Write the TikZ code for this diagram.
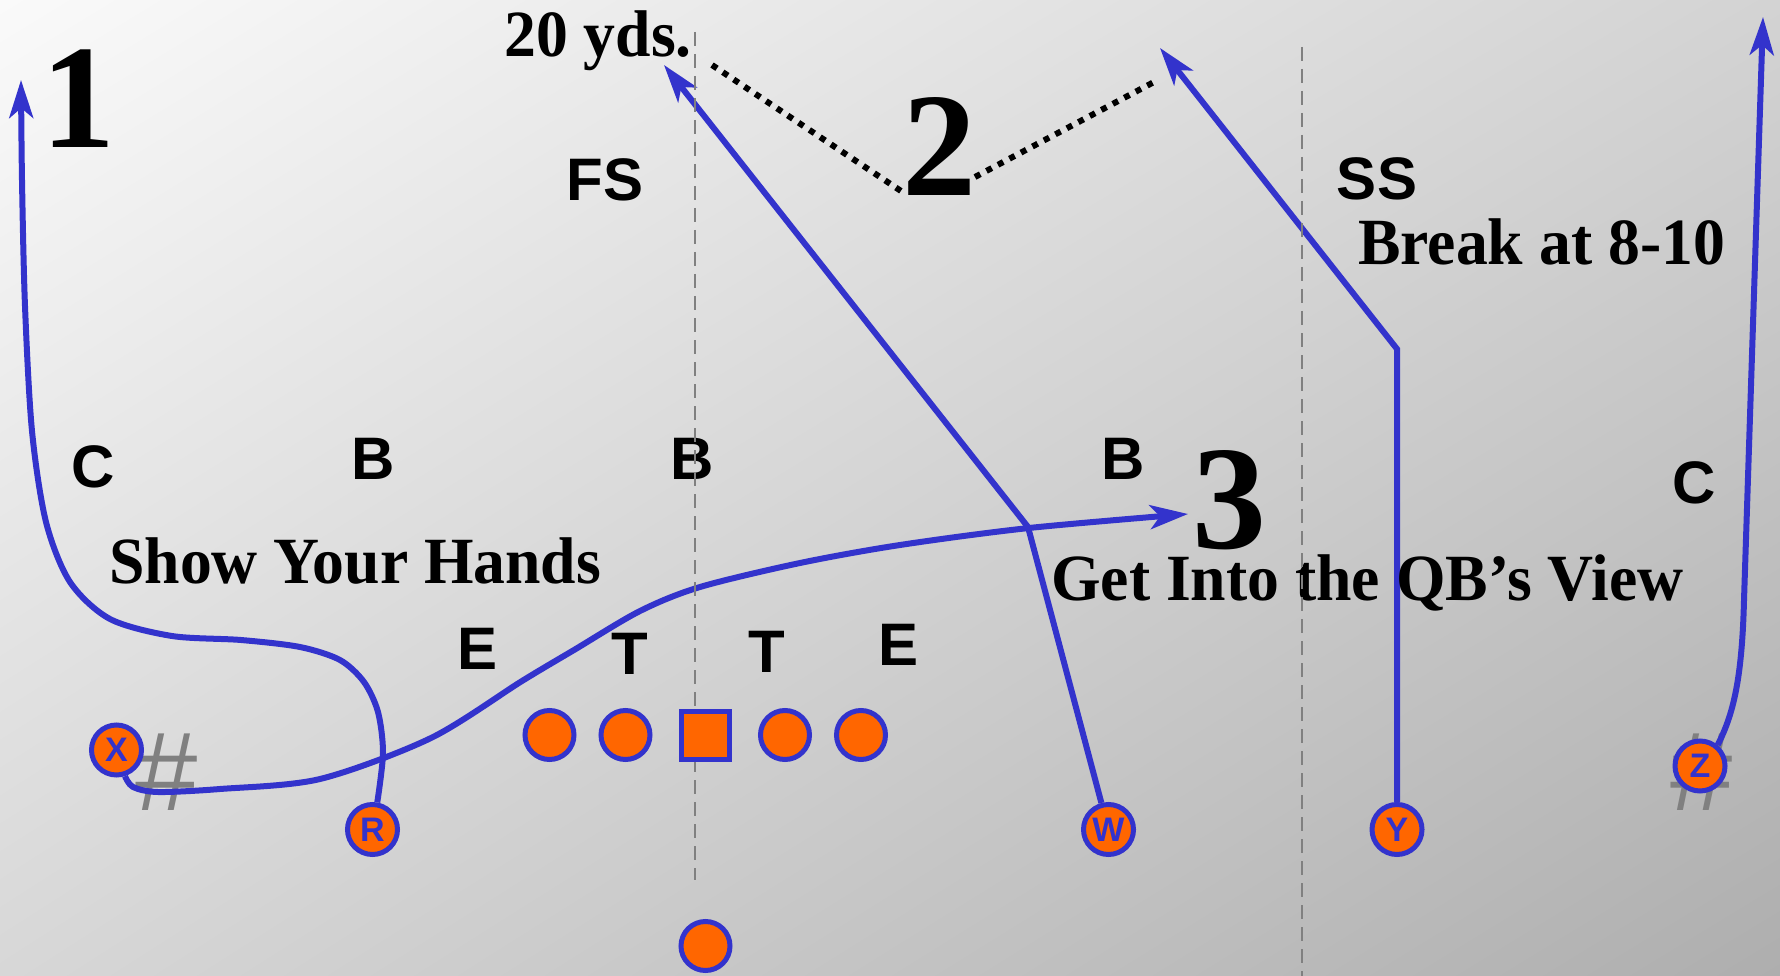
\documentclass[tikz,border=0pt]{standalone}
\usepackage{fontspec}
\usetikzlibrary{arrows.meta,shadings}
\newfontfamily\lserif[FakeStretch=0.965]{Liberation Serif}
\newfontfamily\nserif{Liberation Serif}
\newfontfamily\lsans{Liberation Sans}
\definecolor{pblue}{HTML}{3333CC}
\definecolor{porange}{HTML}{FF6600}
\definecolor{lgray}{HTML}{808080}
\definecolor{bgTL}{HTML}{FAFAFA}
\definecolor{bgTR}{HTML}{D3D3D3}
\definecolor{bgBL}{HTML}{D7D7D7}
\definecolor{bgBR}{HTML}{AEAEAE}
\pgfdeclarelayer{bglayer}
\pgfdeclarelayer{routelayer}
\pgfsetlayers{bglayer,routelayer,main}
\tikzset{
  route/.style={draw=pblue, line width=6pt},
  routetip/.style={-{Stealth[length=38pt,width=24pt,inset=10pt]}},
  player/.style={circle, draw=pblue, fill=porange, line width=5pt, minimum size=49pt, inner sep=0pt},
  cplayer/.style={rectangle, draw=pblue, fill=porange, line width=5pt, minimum size=48pt, inner sep=0pt},
  lplayer/.style={player, minimum size=50pt, text=pblue, font=\lsans\bfseries\fontsize{34}{34}\selectfont},
  defl/.style={font=\lsans\bfseries\fontsize{60}{60}\selectfont, inner sep=0pt},
  note/.style={font=\lserif\bfseries\fontsize{66}{66}\selectfont, inner sep=0pt, anchor=base west},
  bignum/.style={font=\nserif\bfseries\fontsize{148}{148}\selectfont, inner sep=0pt},
  hashmark/.style={font=\lsans\fontsize{112}{112}\selectfont, text=lgray, inner sep=0pt},
  yardline/.style={draw=lgray, line width=2pt, dash pattern=on 14pt off 8pt},
  dotline/.style={draw=black, line width=6pt, dash pattern=on 6pt off 7pt},
}
\begin{document}
\begin{tikzpicture}[x=1pt,y=-1pt]
\useasboundingbox (0,0) rectangle (1780,976);
\begin{pgfonlayer}{bglayer}
\shade[upper left=bgTL, upper right=bgTR, lower left=bgBL, lower right=bgBR] (0,0) rectangle (1780,976);
\end{pgfonlayer}

% defense labels
\node[defl] (fs) at (605,180) {FS};
\node[defl] (ss) at (1377,179) {SS};
\node[defl] (cl) at (93,467) {C};
\node[defl] (b1) at (373,459) {B};
\node[defl] (b2) at (692,459) {B};
\node[defl] (b3) at (1123,459) {B};
\node[defl] (cr) at (1694,483) {C};
\node[defl] (e1) at (478,649) {E};
\node[defl] (t1) at (630,654) {T};
\node[defl] (t2) at (767,652) {T};
\node[defl] (e2) at (898,645) {E};

% notes
\node[note] (yds) at (504,57) {20 yds.};
\node[note] (hands) at (109,583) {Show Your Hands};
\node[note] (view) at (1051,600) {Get Into the QB’s View};
\node[note] (brk) at (1358,265) {Break at 8-10};

% big numbers
\node[bignum] (n1) at (78,99) {1};
\node[bignum] (n2) at (939,147) {2};
\node[bignum] (n3) at (1229,500) {3};

% yard lines
\coordinate (ya) at (695,32);
\coordinate (yb) at (695,880);
\coordinate (yc) at (1302,47);
\coordinate (yd) at (1302,976);
\draw[yardline] (ya) -- (yb);
\draw[yardline] (yc) -- (yd);

% dotted depth lines
\coordinate (d1) at (712,65);
\coordinate (d2) at (904,193);
\coordinate (d3) at (975,177);
\coordinate (d4) at (1154,82);
\draw[dotline] (d1) -- (d2);
\draw[dotline] (d3) -- (d4);

% hash marks
\begin{pgfonlayer}{bglayer}
\node[hashmark] (h1) at (167,772) {\#};
\node[hashmark] (h2) at (1702,772) {\#};
\end{pgfonlayer}

% players
\node[lplayer] (X) at (116.5,750) {X};
\node[lplayer] (R) at (372.5,829.5) {R};
\node[lplayer] (W) at (1108.5,829.5) {W};
\node[lplayer] (Y) at (1397,829.5) {Y};
\node[lplayer] (Z) at (1700,766) {Z};
\node[player] (lt) at (549.5,735) {};
\node[player] (lg) at (625.5,735) {};
\node[cplayer] (ctr) at (705.5,735) {};
\node[player] (rg) at (785,735) {};
\node[player] (rt) at (861,735) {};
\node[player] (qb) at (705.5,946) {};

% route tips and corners
\coordinate (tip1) at (21,80);
\coordinate (tip2a) at (664,65);
\coordinate (tip2b) at (1160,48);
\coordinate (tip3) at (1188,514);
\coordinate (tipz) at (1763,17);
\coordinate (wbreak) at (1028,527);
\coordinate (ybreak) at (1397,349);
\coordinate (zbend) at (1744,600);

% routes (behind players)
\begin{pgfonlayer}{routelayer}
\draw[route,routetip] plot[smooth,tension=0.5] coordinates {(R.80) (383,753) (378,712) (364,682) (340,660) (300,647) (241,640) (172,636) (110,619) (70,582) (46,522) (32,431) (25,306) (22,180) (tip1)};
\draw[route,routetip] plot[smooth,tension=0.5] coordinates {(X.-72) (133,787) (158,792) (220,789) (320,779) (431,738) (522,681) (574,650) (640,611) (700,587) (800,563) (900,545) (1029,528) (tip3)};
\draw[route,routetip] (W.105) -- (wbreak) -- (tip2a);
\draw[route,routetip] (Y.north) -- (ybreak) -- (tip2b);
\draw[route,routetip] (Z.50) .. controls (1733,715) and (1742,680) .. (zbend) -- (tipz);
\end{pgfonlayer}
\end{tikzpicture}
\end{document}
